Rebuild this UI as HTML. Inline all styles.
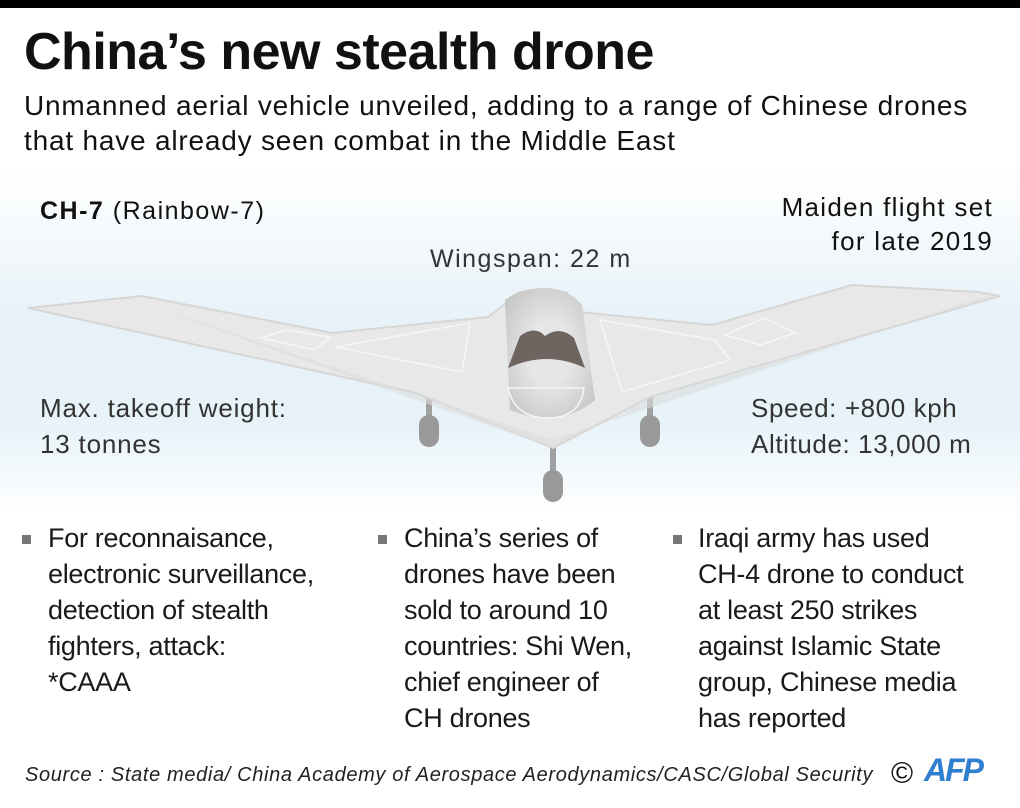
<!DOCTYPE html>
<html><head><meta charset="utf-8"><style>
body{margin:0;width:1020px;height:808px;overflow:hidden;background:#fff;font-family:"Liberation Sans",sans-serif;position:relative;color:#111}
.t{position:absolute;white-space:nowrap}
.bar{position:absolute;left:0;top:0;width:1020px;height:8px;background:#000}
.bg{position:absolute;left:0;top:170px;width:1020px;height:345px;background:linear-gradient(#fff 0%,#e6f1f8 45%,#e8f3f9 75%,#fff 100%)}
.b{font-size:27px;line-height:36px;color:#1a1a1a;letter-spacing:-0.3px}
.sq{position:absolute;width:9px;height:9px;background:#777}
</style></head><body>
<div class="bar"></div>
<div class="bg"></div>
<div class="t" style="left:24px;top:22px;font-size:52px;font-weight:bold;letter-spacing:-0.5px">China’s new stealth drone</div>
<div class="t" style="left:24px;top:88px;font-size:28px;line-height:35px;letter-spacing:0.8px">Unmanned aerial vehicle unveiled, adding to a range of Chinese drones<br>that have already seen combat in the Middle East</div>
<div class="t" style="left:40px;top:197px;font-size:25px;letter-spacing:1.5px"><b>CH-7</b> (Rainbow-7)</div>
<div class="t" style="right:27px;top:190px;font-size:26px;line-height:34px;text-align:right;letter-spacing:1.3px">Maiden flight set<br>for late 2019</div>
<div class="t" style="left:430px;top:245px;font-size:25px;color:#333;letter-spacing:1.5px">Wingspan: 22 m</div>
<svg style="position:absolute;left:0;top:0" width="1020" height="808">
<defs><radialGradient id="f" cx="0.5" cy="0.5" r="0.6"><stop offset="0.4" stop-color="#e6e6e6"/><stop offset="1" stop-color="#c8c8c8"/></radialGradient></defs>
<g fill="#a0a0a0"><rect x="426" y="390" width="6" height="30"/><rect x="647" y="390" width="6" height="30"/><rect x="550" y="445" width="6" height="30"/>
<rect x="419" y="415" width="20" height="32" rx="10" fill="#999"/><rect x="640" y="415" width="20" height="32" rx="10" fill="#999"/><rect x="543" y="470" width="20" height="32" rx="10" fill="#999"/></g>
<polygon points="28,308 142,296 332,333 488,317 520,292 566,292 579,312 712,325 852,285 978,292 1000,296 650,397 553,448 416,393" fill="#e8e8e8" stroke="#d6d6d6" stroke-width="2"/>
<polygon points="553,448 650,397 1000,296 980,298 553,440 126,298" fill="#dcdcdc" opacity="0.6"/>
<path d="M505,300 Q520,288 545,288 Q568,288 582,305 L595,400 Q560,430 510,410 Z" fill="url(#f)"/>
<path d="M508,368 L520,336 Q535,325 545,336 Q560,325 574,338 L585,368 Q547,350 508,368Z" fill="#6e6560"/>
<g fill="none" stroke="#f6f6f6" stroke-width="1.5"><path d="M336,347 L470,323 L462,372 Z"/><path d="M600,320 L715,340 L730,360 L622,392 Z"/><path d="M262,338 L285,330 L330,337 L315,350 Z"/><path d="M725,335 L765,318 L795,333 L760,345 Z"/><path d="M508,388 L584,388 Q580,418 548,418 Q515,418 508,388Z"/></g>
</svg>
<div class="t" style="left:40px;top:390px;font-size:26px;line-height:36px;color:#333;letter-spacing:0.8px">Max. takeoff weight:<br>13 tonnes</div>
<div class="t" style="left:751px;top:390px;font-size:26px;line-height:36px;color:#333;letter-spacing:0.6px">Speed: +800 kph<br>Altitude: 13,000 m</div>
<div class="sq" style="left:22px;top:535px"></div>
<div class="t b" style="left:48px;top:520px">For reconnaisance,<br>electronic surveillance,<br>detection of stealth<br>fighters, attack:<br>*CAAA</div>
<div class="sq" style="left:378px;top:535px"></div>
<div class="t b" style="left:404px;top:520px">China’s series of<br>drones have been<br>sold to around 10<br>countries: Shi Wen,<br>chief engineer of<br>CH drones</div>
<div class="sq" style="left:673px;top:535px"></div>
<div class="t b" style="left:698px;top:520px">Iraqi army has used<br>CH-4 drone to conduct<br>at least 250 strikes<br>against Islamic State<br>group, Chinese media<br>has reported</div>
<div class="t" style="left:25px;top:764px;font-size:20px;font-style:italic;color:#222;letter-spacing:0.65px">Source : State media/ China Academy of Aerospace Aerodynamics/CASC/Global Security</div>
<div class="t" style="left:891px;top:757px;font-size:30px;color:#111">©</div>
<div class="t" style="left:924px;top:752px;font-size:32px;font-weight:bold;font-style:italic;color:#2f7fd1;letter-spacing:-2px">AFP</div>
</body></html>
